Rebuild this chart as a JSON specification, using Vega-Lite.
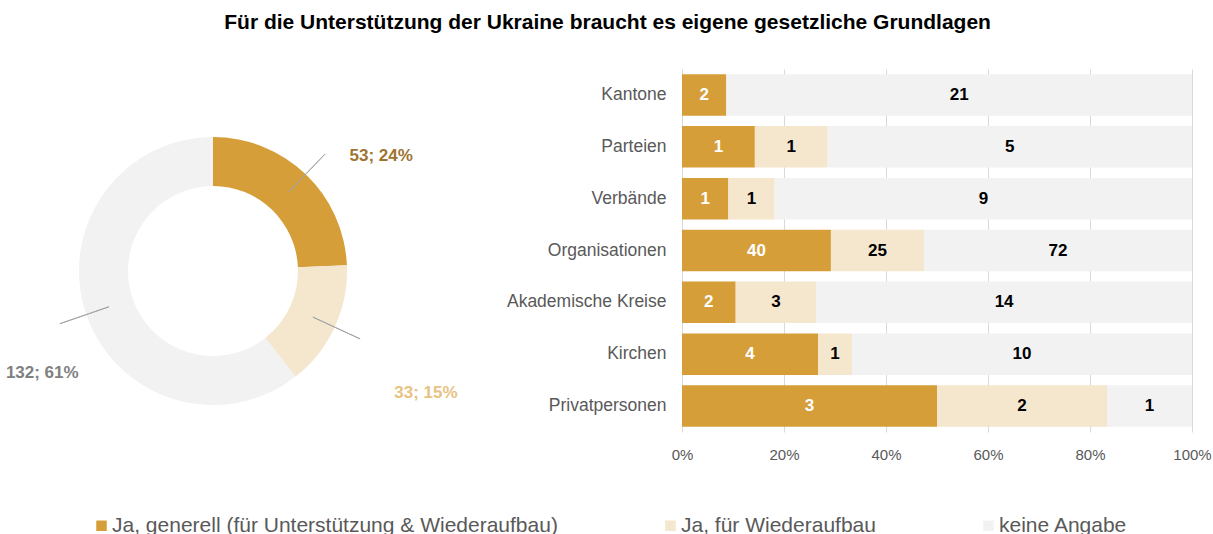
{
  "$schema": "https://vega.github.io/schema/vega-lite/v6.json",
  "padding": {"top": 12, "left": 0, "right": 0, "bottom": 0},
  "background": "white",
  "title": {
    "text": "Für die Unterstützung der Ukraine braucht es eigene gesetzliche Grundlagen",
    "font": "Liberation Sans",
    "fontSize": 21,
    "fontWeight": "bold",
    "color": "#000000",
    "anchor": "middle",
    "offset": 36,
    "dx": 2
  },
  "config": {
    "view": {"stroke": null},
    "font": "Liberation Sans"
  },
  "datasets": {
    "totals": [
      {"cat": "Ja, generell (für Unterstützung & Wiederaufbau)", "ord": 1, "value": 53, "label": "53; 24%"},
      {"cat": "Ja, für Wiederaufbau", "ord": 2, "value": 33, "label": "33; 15%"},
      {"cat": "keine Angabe", "ord": 3, "value": 132, "label": "132; 61%"}
    ],
    "groups": [
      {"group": "Kantone", "cat": "Ja, generell (für Unterstützung & Wiederaufbau)", "ord": 1, "value": 2},
      {"group": "Kantone", "cat": "keine Angabe", "ord": 3, "value": 21},
      {"group": "Parteien", "cat": "Ja, generell (für Unterstützung & Wiederaufbau)", "ord": 1, "value": 1},
      {"group": "Parteien", "cat": "Ja, für Wiederaufbau", "ord": 2, "value": 1},
      {"group": "Parteien", "cat": "keine Angabe", "ord": 3, "value": 5},
      {"group": "Verbände", "cat": "Ja, generell (für Unterstützung & Wiederaufbau)", "ord": 1, "value": 1},
      {"group": "Verbände", "cat": "Ja, für Wiederaufbau", "ord": 2, "value": 1},
      {"group": "Verbände", "cat": "keine Angabe", "ord": 3, "value": 9},
      {"group": "Organisationen", "cat": "Ja, generell (für Unterstützung & Wiederaufbau)", "ord": 1, "value": 40},
      {"group": "Organisationen", "cat": "Ja, für Wiederaufbau", "ord": 2, "value": 25},
      {"group": "Organisationen", "cat": "keine Angabe", "ord": 3, "value": 72},
      {"group": "Akademische Kreise", "cat": "Ja, generell (für Unterstützung & Wiederaufbau)", "ord": 1, "value": 2},
      {"group": "Akademische Kreise", "cat": "Ja, für Wiederaufbau", "ord": 2, "value": 3},
      {"group": "Akademische Kreise", "cat": "keine Angabe", "ord": 3, "value": 14},
      {"group": "Kirchen", "cat": "Ja, generell (für Unterstützung & Wiederaufbau)", "ord": 1, "value": 4},
      {"group": "Kirchen", "cat": "Ja, für Wiederaufbau", "ord": 2, "value": 1},
      {"group": "Kirchen", "cat": "keine Angabe", "ord": 3, "value": 10},
      {"group": "Privatpersonen", "cat": "Ja, generell (für Unterstützung & Wiederaufbau)", "ord": 1, "value": 3},
      {"group": "Privatpersonen", "cat": "Ja, für Wiederaufbau", "ord": 2, "value": 2},
      {"group": "Privatpersonen", "cat": "keine Angabe", "ord": 3, "value": 1}
    ]
  },
  "bounds": "flush",
  "spacing": 256,
  "hconcat": [
    {
      "width": 426,
      "height": 404,
      "data": {"name": "totals"},
      "layer": [
        {
          "mark": {"type": "arc", "innerRadius": 85, "outerRadius": 134},
          "encoding": {
            "theta": {"field": "value", "type": "quantitative", "stack": true},
            "order": {"field": "ord", "type": "quantitative"},
            "color": {
              "field": "cat",
              "type": "nominal",
              "scale": {
                "domain": ["Ja, generell (für Unterstützung & Wiederaufbau)", "Ja, für Wiederaufbau", "keine Angabe"],
                "range": ["#D69E38", "#F5E6CE", "#F2F2F2"]
              },
              "legend": {
                "title": null,
                "orient": "none",
                "legendX": 91,
                "legendY": 446,
                "direction": "horizontal",
                "symbolType": "square",
                "symbolSize": 110,
                "symbolStrokeWidth": 0,
                "labelFontSize": 21,
                "labelFont": "Liberation Sans",
                "labelColor": "#595959",
                "labelOffset": 0,
                "labelLimit": 700,
                "columnPadding": 102
              }
            }
          }
        },
        {
          "transform": [
            {"stack": "value", "groupby": [], "sort": [{"field": "ord"}], "as": ["v0", "v1"]},
            {"fold": ["v0", "v1"], "as": ["edge", "pos"]},
            {"aggregate": [{"op": "mean", "field": "pos", "as": "mid"}], "groupby": ["cat"]}
          ],
          "mark": {"type": "arc", "innerRadius": 110, "outerRadius": 162, "fill": null, "stroke": "#A6A6A6", "strokeWidth": 1},
          "encoding": {
            "theta": {"field": "mid", "type": "quantitative", "stack": null},
            "theta2": {"field": "mid"}
          }
        },
        {
          "mark": {"type": "text", "radius": 207, "dx": 25, "dy": 35, "fontSize": 17, "fontWeight": "bold", "font": "Liberation Sans"},
          "encoding": {
            "theta": {"field": "value", "type": "quantitative", "stack": true},
            "order": {"field": "ord", "type": "quantitative"},
            "detail": {"field": "cat"},
            "text": {"field": "label"},
            "color": {
              "condition": [
                {"test": "datum.ord == 1", "value": "#9E7331"},
                {"test": "datum.ord == 2", "value": "#E8C282"}
              ],
              "value": "#808080"
            }
          }
        }
      ]
    },
    {
      "width": 510,
      "height": 363,
      "data": {"name": "groups"},
      "encoding": {
        "y": {
          "field": "group",
          "type": "nominal",
          "sort": null,
          "scale": {"paddingInner": 0.2, "paddingOuter": 0.1},
          "axis": {
            "title": null,
            "ticks": false,
            "domain": false,
            "labelFontSize": 17.5,
            "labelFont": "Liberation Sans",
            "labelColor": "#595959",
            "labelPadding": 16,
            "labelLimit": 300
          }
        }
      },
      "layer": [
        {
          "mark": {"type": "bar"},
          "encoding": {
            "x": {
              "field": "value",
              "type": "quantitative",
              "stack": "normalize",
              "scale": {"domain": [0, 1]},
              "axis": {
                "title": null,
                "format": ".0%",
                "values": [0, 0.2, 0.4, 0.6, 0.8, 1],
                "grid": true,
                "gridColor": "#D9D9D9",
                "ticks": false,
                "domain": false,
                "labelFlush": false,
                "labelFontSize": 15,
                "labelFont": "Liberation Sans",
                "labelColor": "#595959",
                "labelPadding": 15
              }
            },
            "order": {"field": "ord", "type": "quantitative"},
            "color": {"field": "cat", "type": "nominal"}
          }
        },
        {
          "mark": {"type": "text", "fontSize": 17, "fontWeight": "bold", "font": "Liberation Sans"},
          "encoding": {
            "x": {"field": "value", "type": "quantitative", "stack": "normalize", "bandPosition": 0.5},
            "order": {"field": "ord", "type": "quantitative"},
            "detail": {"field": "cat"},
            "text": {"field": "value", "type": "quantitative"},
            "color": {
              "condition": {"test": "datum.ord == 1", "value": "#FFFFFF"},
              "value": "#000000"
            }
          }
        }
      ]
    }
  ]
}
